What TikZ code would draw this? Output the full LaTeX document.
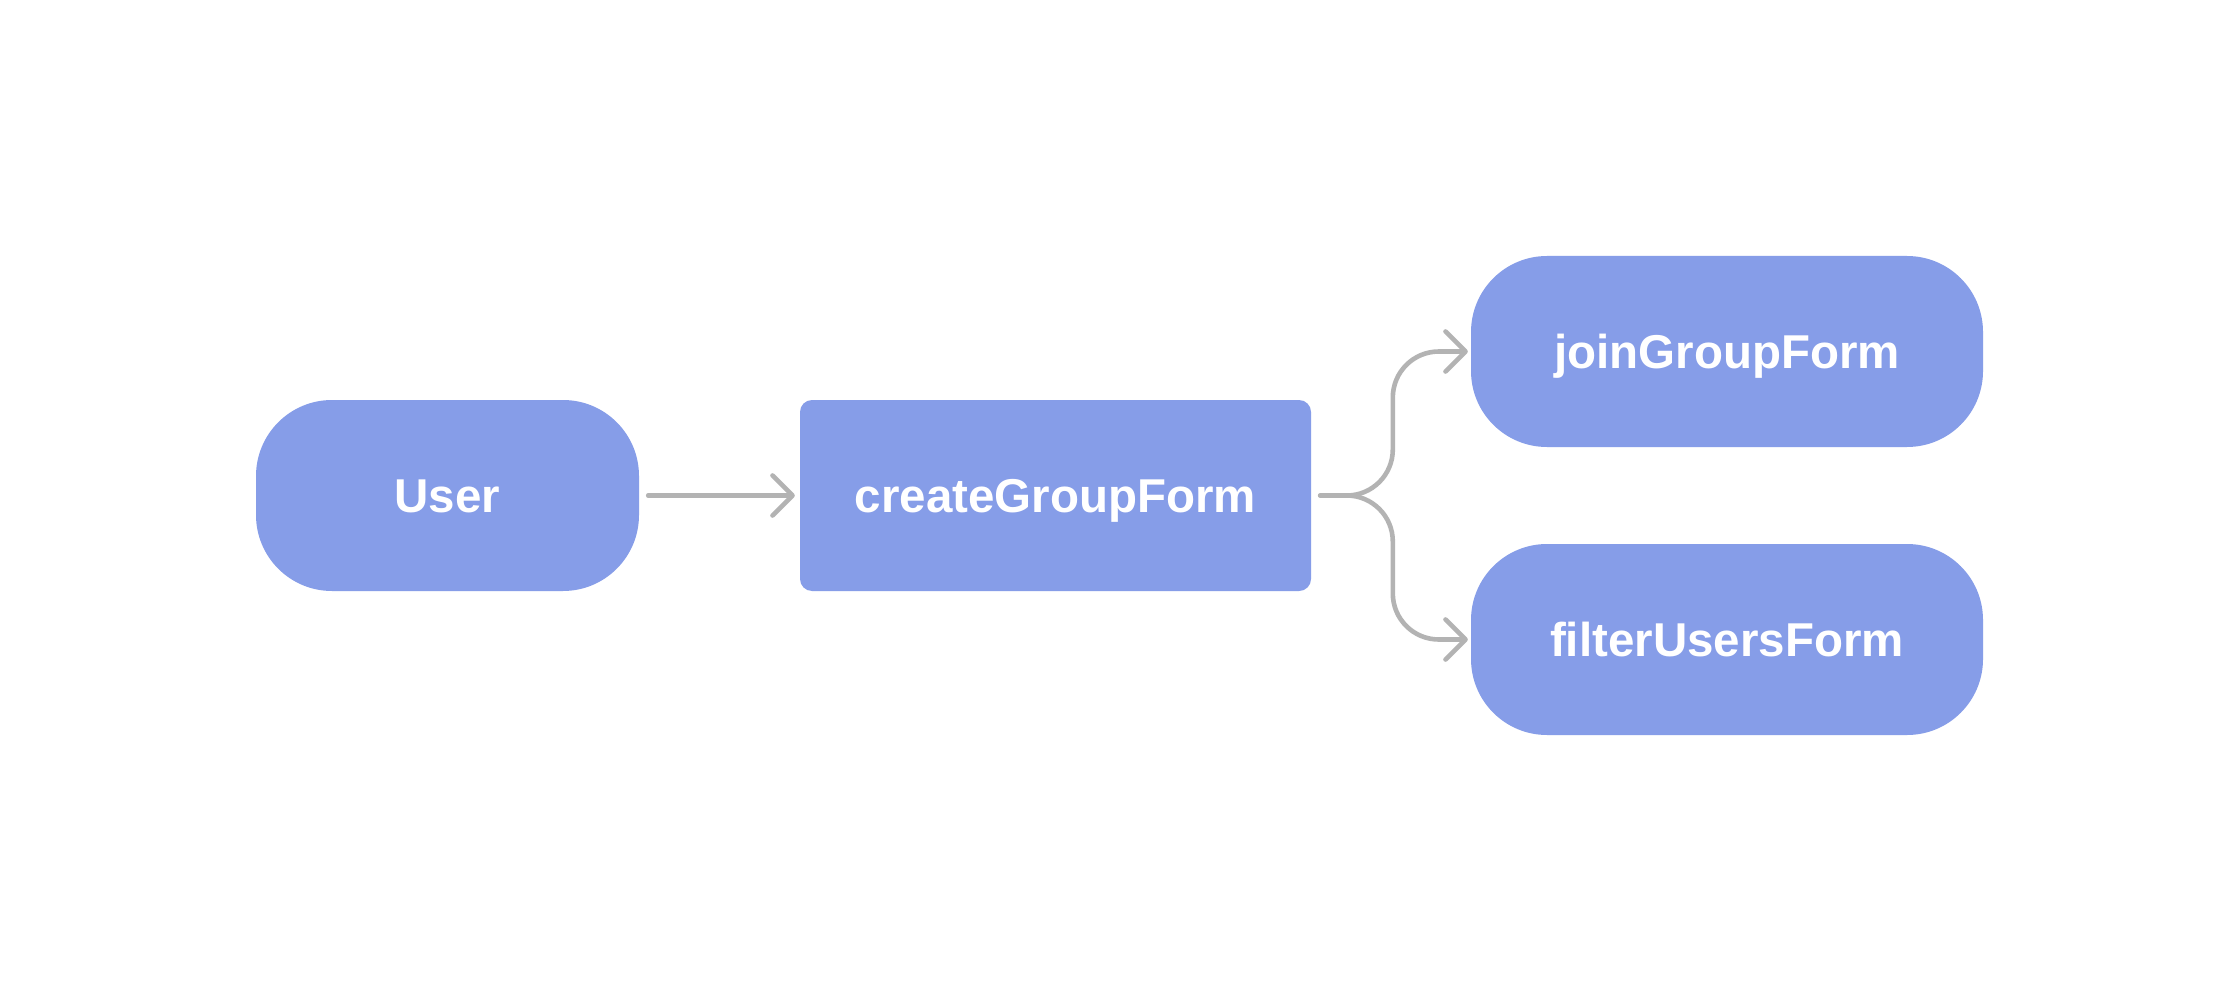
\documentclass[tikz,border=0pt]{standalone}
\usepackage{fontspec}
\setmainfont[Ligatures=NoCommon]{Liberation Sans}
\usetikzlibrary{arrows.meta}
\definecolor{boxblue}{HTML}{869DE8}
\definecolor{linegray}{HTML}{B3B3B3}
\begin{document}
\begin{tikzpicture}[x=1pt,y=-1pt,
  base/.style={fill=boxblue, text=white, inner sep=0pt, draw=none,
    font=\fontsize{47.5}{57}\selectfont\bfseries,
    text height=34pt, text depth=0pt, minimum height=191pt},
  pill/.style={base, rounded corners=76pt},
  boxr/.style={base, rounded corners=12pt},
  conn/.style={draw=linegray, line width=4.6pt, line cap=round, line join=round,
    -{Straight Barb[length=20pt,width=40pt,round]}}
]
\fill[white] (0,0) rectangle (2240,992);
\useasboundingbox (0,0) rectangle (2240,992);
\node[pill, minimum width=383pt] (user) at (447.5,495.5) {User};
\node[boxr, minimum width=511pt] (create) at (1055.5,495.5) {createGroupForm};
\node[pill, minimum width=512pt] (join) at (1727,351.5) {joinGroupForm};
\node[pill, minimum width=512pt] (filter) at (1727,639.5) {filterUsersForm};
\draw[conn] ([xshift=9pt]user.east) -- ([xshift=-5pt]create.west);
\draw[conn, rounded corners=46pt] ([xshift=9pt]create.east) -| ([xshift=-78pt]join.west) -- ([xshift=-3pt]join.west);
\draw[conn, rounded corners=46pt] ([xshift=9pt]create.east) -| ([xshift=-78pt]filter.west) -- ([xshift=-3pt]filter.west);
\end{tikzpicture}
\end{document}
